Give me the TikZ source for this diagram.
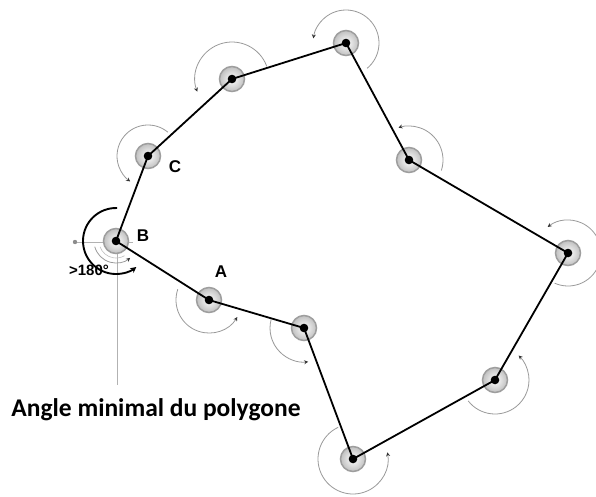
\documentclass[tikz,border=0pt]{standalone}
\usepackage{fontspec}
\usetikzlibrary{arrows.meta}
\newfontfamily\labelfont{Liberation Sans}
\newfontfamily\titlefont{Carlito}

\tikzset{
  vertex/.style={circle, minimum size=25pt, inner sep=0pt, draw=black!38,
    line width=1.5pt, inner color=white, outer color=black!25},
  side/.style={line width=1.8pt, black},
  turn/.style={line width=0.8pt, black!40, -{Stealth[length=4pt,width=4pt,black!80]}},
  bigturn/.style={line width=1.9pt, black, -{Stealth[length=6pt,width=6pt]}},
  guide/.style={line width=1pt, black!30},
  lab/.style={font=\labelfont\bfseries\fontsize{17}{17}\selectfont},
}
% arc round a vertex: node, start, end, radius, style
\newcommand{\turnarc}[5]{\draw[#5] ([shift={(#2:#4)}]#1.center) arc[start angle=#2, end angle=#3, radius=#4];}

\begin{document}
\begin{tikzpicture}[x=1pt,y=1pt]
\useasboundingbox (0,0) rectangle (596,-496);

% guide lines at B
\coordinate (Bleft) at (75,-242);
\coordinate (Bdown) at (117,-385);
\draw[guide] (Bleft) -- (133,-242);
\draw[guide] (117,-228) -- (Bdown);
\fill[black!45] (Bleft) circle (2.2);

% vertices
\node[vertex] (B) at (116,-241) {};
\node[vertex] (C) at (148,-156) {};
\node[vertex] (P3) at (232,-79) {};
\node[vertex] (P4) at (346,-43) {};
\node[vertex] (P5) at (409,-160) {};
\node[vertex] (P6) at (568,-253) {};
\node[vertex] (P7) at (495,-380) {};
\node[vertex] (P8) at (353,-459) {};
\node[vertex] (P9) at (304,-328) {};
\node[vertex] (A) at (209,-300) {};

% sides
\draw[side] (B.center) -- (C.center) -- (P3.center) -- (P4.center) -- (P5.center)
  -- (P6.center) -- (P7.center) -- (P8.center) -- (P9.center) -- (A.center) -- (B.center);

\foreach \v in {B,C,P3,P4,P5,P6,P7,P8,P9,A}
  \fill (\v.center) circle (4.3);

% turning arcs
\turnarc{C}{50}{235}{31}{turn}
\turnarc{P3}{20}{200}{37}{turn}
\turnarc{P4}{-50}{172}{33}{turn}
\turnarc{P5}{-18}{108}{34}{turn}
\turnarc{P6}{-114}{128}{33}{turn}
\turnarc{P7}{-142}{46}{34}{turn}
\turnarc{P8}{115}{371}{35}{turn}
\turnarc{P9}{165}{277}{34}{turn}
\turnarc{A}{161}{329}{33}{turn}
\turnarc{B}{195}{310}{22}{turn}
\draw[guide, line width=0.6pt, black!25] ([shift={(200:17)}]B.center) arc[start angle=200, end angle=300, radius=17];
\turnarc{B}{88}{308}{33}{bigturn}

% labels
\node[lab] (labB) at (143,-236) {B};
\node[lab] (labC) at (175,-167) {C};
\node[lab] (labA) at (221,-272) {A};
\node[font=\labelfont\bfseries\fontsize{15}{15}\selectfont] (big) at (89,-270) {>180°};
\node[font=\titlefont\bfseries\fontsize{25.5}{25.5}\selectfont, text=black] (title) at (156,-410) {Angle minimal du polygone};
\end{tikzpicture}
\end{document}
